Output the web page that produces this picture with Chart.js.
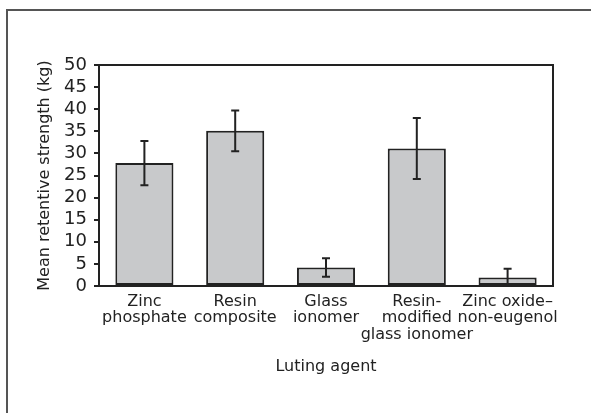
<!DOCTYPE html>
<html>
<head>
<meta charset="utf-8">
<script src="https://cdn.jsdelivr.net/npm/chart.js@4/dist/chart.umd.min.js"></script>
<style>
html,body{margin:0;padding:0;background:#fff;}
#wrap{width:591px;height:413px;position:relative;}
</style>
</head>
<body>
<div id="wrap"><canvas id="c" width="591" height="413"></canvas></div>
<script>
const categories = [
  ["Zinc", "phosphate"],
  ["Resin", "composite"],
  ["Glass", "ionomer"],
  ["Resin-", "modified", "glass ionomer"],
  ["Zinc oxide\u2013", "non-eugenol"]
];
const meanStrength = [27.8, 35.1, 4.2, 31.1, 1.9];
const sdStrength = [5.0, 4.6, 2.1, 6.9, 2.0];
const yTicks = [0, 5, 10, 15, 20, 25, 30, 35, 40, 45, 50];

const FONT = "'DejaVu Sans', sans-serif";
const INK = '#222222';

const framePlugin = {
  id: 'frame',
  beforeDraw(chart) {
    const ctx = chart.ctx;
    ctx.save();
    ctx.fillStyle = '#ffffff';
    ctx.fillRect(0, 0, chart.width, chart.height);
    ctx.strokeStyle = '#555555';
    ctx.lineWidth = 2;
    ctx.beginPath();
    ctx.moveTo(6, 10);
    ctx.lineTo(chart.width, 10);
    ctx.moveTo(7, 10);
    ctx.lineTo(7, chart.height);
    ctx.stroke();
    ctx.restore();
  },
  afterDraw(chart) {
    const a = chart.chartArea;
    const ctx = chart.ctx;
    ctx.save();
    ctx.strokeStyle = INK;
    ctx.lineWidth = 2;
    ctx.beginPath();
    ctx.moveTo(a.left, a.top);
    ctx.lineTo(a.right, a.top);
    ctx.lineTo(a.right, a.bottom);
    ctx.stroke();
    ctx.restore();
  }
};

const errorBarPlugin = {
  id: 'errorBars',
  afterDatasetsDraw(chart) {
    const ctx = chart.ctx;
    const meta = chart.getDatasetMeta(0);
    const ys = chart.scales.y;
    ctx.save();
    ctx.strokeStyle = INK;
    ctx.lineWidth = 2;
    meta.data.forEach((bar, i) => {
      const x = bar.x;
      const yTop = ys.getPixelForValue(meanStrength[i] + sdStrength[i]);
      const yBot = ys.getPixelForValue(Math.max(0, meanStrength[i] - sdStrength[i]));
      ctx.beginPath();
      ctx.moveTo(x, yTop); ctx.lineTo(x, yBot);
      ctx.moveTo(x - 4, yTop); ctx.lineTo(x + 4, yTop);
      ctx.moveTo(x - 4, yBot); ctx.lineTo(x + 4, yBot);
      ctx.stroke();
    });
    ctx.restore();
  }
};

new Chart(document.getElementById('c'), {
  type: 'bar',
  data: {
    labels: categories,
    datasets: [{
      data: meanStrength,
      backgroundColor: '#c8c9cb',
      borderColor: INK,
      borderWidth: 2,
      borderSkipped: false,
      categoryPercentage: 1,
      barPercentage: 0.64
    }]
  },
  options: {
    responsive: false,
    animation: false,
    devicePixelRatio: 1,
    layout: { padding: { left: 31, right: 38, top: 65, bottom: 33 } },
    plugins: { legend: { display: false }, tooltip: { enabled: false } },
    scales: {
      x: {
        grid: { display: false, drawTicks: false },
        border: { display: true, color: INK, width: 2 },
        ticks: {
          color: INK, font: { family: FONT, size: 16, lineHeight: 1.05 },
          padding: 7, maxRotation: 0, autoSkip: false
        },
        title: {
          display: true, text: 'Luting agent', color: INK,
          font: { family: FONT, size: 16 }
        },
        afterFit(scale) { scale.height = 94; }
      },
      y: {
        min: 0, max: 50,
        afterBuildTicks(scale) { scale.ticks = yTicks.map(v => ({ value: v })); },
        grid: { display: true, drawOnChartArea: false, drawTicks: true, tickLength: 5, color: INK, lineWidth: 2 },
        border: { display: true, color: INK, width: 2 },
        ticks: { color: INK, font: { family: FONT, size: 18 }, padding: 7, autoSkip: false },
        title: {
          display: true, text: 'Mean retentive strength (kg)', color: INK,
          font: { family: FONT, size: 16 }
        },
        afterFit(scale) { scale.width = 68; }
      }
    }
  },
  plugins: [framePlugin, errorBarPlugin]
});
</script>
</body>
</html>
